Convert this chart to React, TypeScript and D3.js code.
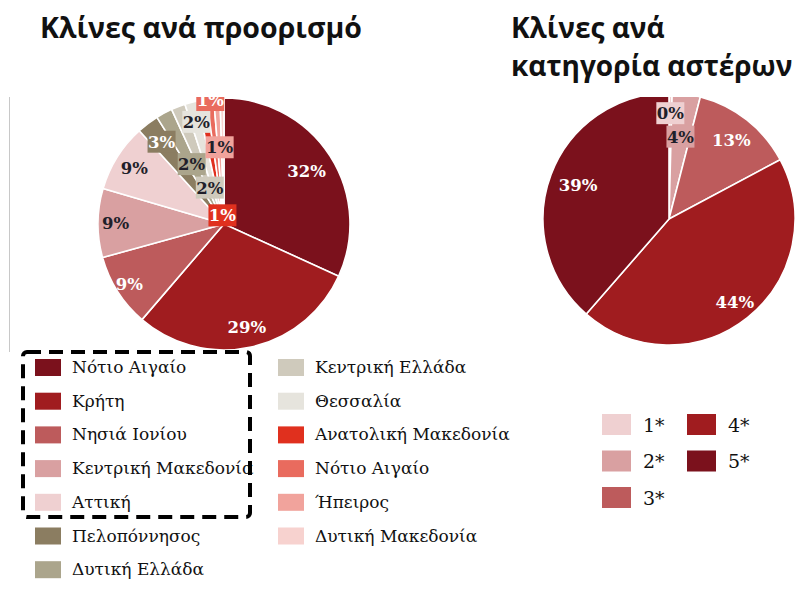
import React from "react";
import * as d3 from "d3";

// ---- Data ----
const regionNames = [
  "Νότιο Αιγαίο",
  "Κρήτη",
  "Νησιά Ιονίου",
  "Κεντρική Μακεδονία",
  "Αττική",
  "Πελοπόννησος",
  "Δυτική Ελλάδα",
  "Κεντρική Ελλάδα",
  "Θεσσαλία",
  "Ανατολική Μακεδονία",
  "Νότιο Αιγαίο",
  "Ήπειρος",
  "Δυτική Μακεδονία",
];
const regionValues = [31.7, 29.4, 9.4, 8.8, 8.7, 2.8, 2.1, 1.8, 1.6, 1.2, 0.9, 0.8, 0.5];
const regionColors = [
  "#7b111c", "#a01c1f", "#bd5b5c", "#d9a0a1", "#efd0d1",
  "#8b7d61", "#aba58c", "#cfcabc", "#e6e4dd",
  "#e0301e", "#e96b5e", "#f1a39c", "#f7d2cf",
];

const starNames = ["1*", "2*", "3*", "4*", "5*"];
const starValues = [0.4, 3.6, 13.2, 44.2, 38.6];
const starColors = ["#efd0d1", "#d9a0a1", "#bd5b5c", "#a01c1f", "#7b111c"];

// ---- Label layout (radius as fraction of pie radius; null = no label) ----
const regionLabelRadius: (number | null)[] = [0.78, 0.84, 0.89, 0.86, 0.84, 0.82, 0.54, 0.31, 0.84, 0.07, 0.99, 0.61, null];
const regionLabelBoxed = [false, false, false, false, false, true, true, true, true, true, true, true, false];
const regionLabelLight = [true, true, true, false, false, true, false, false, false, true, true, false, false];

const starLabelRadius = [0.84, 0.66, 0.8, 0.84, 0.77];
const starLabelBoxed = [true, true, false, false, false];
const starLabelLight = [false, false, true, true, true];

const LABEL_FONT = "'DejaVu Serif', Georgia, serif";
const LEGEND_FONT = "'DejaVu Serif', Georgia, serif";
const TITLE_FONT = "'Open Sans', 'Noto Sans', sans-serif";

type PieProps = {
  cx: number;
  cy: number;
  r: number;
  values: number[];
  colors: string[];
  labelRadius: (number | null)[];
  boxed: boolean[];
  light: boolean[];
  clipId: string;
};

function Pie({ cx, cy, r, values, colors, labelRadius, boxed, light, clipId }: PieProps) {
  const pie = d3.pie<number>().sort(null).value((d) => d)(values);
  const arc = d3.arc<d3.PieArcDatum<number>>().innerRadius(0).outerRadius(r);
  const total = d3.sum(values);
  return (
    <g clipPath={`url(#${clipId})`}>
      <g transform={`translate(${cx},${cy})`}>
        {pie.map((p, i) => (
          <path key={"s" + i} d={arc(p) || ""} fill={colors[i]} stroke="#ffffff" strokeWidth={1.6} strokeLinejoin="round" />
        ))}
        {pie.map((p, i) => {
          const lr = labelRadius[i];
          if (lr == null) return null;
          const a = (p.startAngle + p.endAngle) / 2;
          const x = Math.sin(a) * r * lr;
          const y = -Math.cos(a) * r * lr;
          const txt = Math.round((values[i] / total) * 100) + "%";
          const w = txt.length * 11 + 6;
          return (
            <g key={"l" + i} transform={`translate(${x},${y})`}>
              {boxed[i] && <rect x={-w / 2} y={-11} width={w} height={22} fill={colors[i]} />}
              <text
                textAnchor="middle"
                dy="0.36em"
                fontFamily={LABEL_FONT}
                fontWeight="bold"
                fontSize={16.5}
                fill={light[i] ? "#ffffff" : "#1f1f2a"}
              >
                {txt}
              </text>
            </g>
          );
        })}
      </g>
    </g>
  );
}

export default function App() {
  const rowH = 33.7;
  const leftCol1 = regionNames.slice(0, 7).map((n, i) => ({ n, c: regionColors[i] }));
  const leftCol2 = regionNames.slice(7).map((n, i) => ({ n, c: regionColors[i + 7] }));
  const starCol1 = starNames.slice(0, 3).map((n, i) => ({ n, c: starColors[i] }));
  const starCol2 = starNames.slice(3).map((n, i) => ({ n, c: starColors[i + 3] }));

  return (
    <svg width={806} height={590} style={{ position: "absolute", left: 0, top: 0, background: "#fff" }}>
      <defs>
        <clipPath id="clipTop">
          <rect x={0} y={97} width={806} height={493} />
        </clipPath>
      </defs>
      <rect width={806} height={590} fill="#ffffff" />

      {/* Titles */}
      <text x={40} y={38} fontFamily={TITLE_FONT} fontWeight={700} fontSize={28.5} fill="#111">
        Κλίνες ανά προορισμό
      </text>
      <text x={511} y={38} fontFamily={TITLE_FONT} fontWeight={700} fontSize={28} fill="#111">
        Κλίνες ανά
      </text>
      <text x={511} y={76} fontFamily={TITLE_FONT} fontWeight={700} fontSize={28} fill="#111">
        κατηγορία αστέρων
      </text>

      {/* thin gray guide line */}
      <line x1={9.5} x2={9.5} y1={97} y2={352} stroke="#c8c8c8" strokeWidth={1} />

      <Pie
        cx={224}
        cy={224}
        r={126}
        values={regionValues}
        colors={regionColors}
        labelRadius={regionLabelRadius}
        boxed={regionLabelBoxed}
        light={regionLabelLight}
        clipId="clipTop"
      />
      <Pie
        cx={669}
        cy={219}
        r={126}
        values={starValues}
        colors={starColors}
        labelRadius={starLabelRadius}
        boxed={starLabelBoxed}
        light={starLabelLight}
        clipId="clipTop"
      />

      {/* Left legend */}
      {leftCol1.map((d, i) => (
        <g key={"a" + i} transform={`translate(35,${367.5 + i * rowH})`}>
          <rect x={0} y={-8.5} width={26} height={17} fill={d.c} />
          <text x={37} y={5.5} fontFamily={LEGEND_FONT} fontSize={17} fill="#111">
            {d.n}
          </text>
        </g>
      ))}
      {leftCol2.map((d, i) => (
        <g key={"b" + i} transform={`translate(278,${367.5 + i * rowH})`}>
          <rect x={0} y={-8.5} width={26} height={17} fill={d.c} />
          <text x={37} y={5.5} fontFamily={LEGEND_FONT} fontSize={17} fill="#111">
            {d.n}
          </text>
        </g>
      ))}

      {/* dashed highlight box */}
      <rect x={23} y={352} width={227} height={165} rx={4} fill="none" stroke="#000" strokeWidth={4} strokeDasharray="14 8" />

      {/* Right legend */}
      {starCol1.map((d, i) => (
        <g key={"c" + i} transform={`translate(602,${424.5 + i * 36.5})`}>
          <rect x={0} y={-10.5} width={29} height={21} fill={d.c} />
          <text x={41} y={7} fontFamily={LEGEND_FONT} fontSize={19} fill="#111">
            {d.n}
          </text>
        </g>
      ))}
      {starCol2.map((d, i) => (
        <g key={"d" + i} transform={`translate(687,${424.5 + i * 36.5})`}>
          <rect x={0} y={-10.5} width={29} height={21} fill={d.c} />
          <text x={41} y={7} fontFamily={LEGEND_FONT} fontSize={19} fill="#111">
            {d.n}
          </text>
        </g>
      ))}
    </svg>
  );
}
